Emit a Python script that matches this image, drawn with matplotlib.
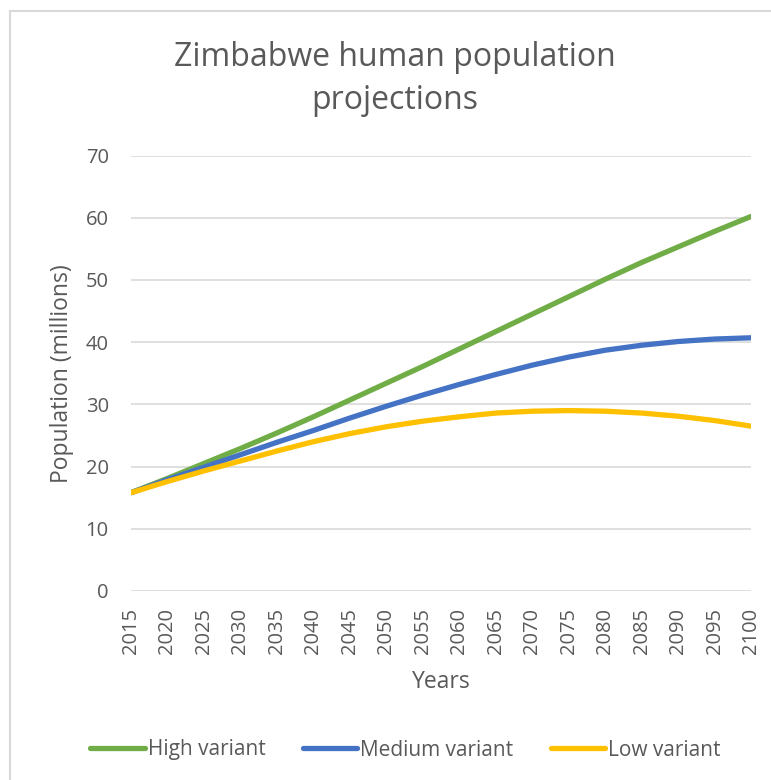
import matplotlib.pyplot as plt
from matplotlib.patches import Rectangle

# Zimbabwe population projections, millions, 5-year steps
years = [2015, 2020, 2025, 2030, 2035, 2040, 2045, 2050, 2055,
         2060, 2065, 2070, 2075, 2080, 2085, 2090, 2095, 2100]
high = [15.8, 18.1, 20.5, 22.9, 25.4, 28.0, 30.7, 33.4, 36.1,
        38.9, 41.7, 44.5, 47.3, 50.1, 52.8, 55.3, 57.8, 60.2]
medium = [15.8, 17.9, 19.9, 21.9, 23.9, 25.8, 27.8, 29.7, 31.5,
          33.2, 34.8, 36.3, 37.6, 38.7, 39.5, 40.1, 40.5, 40.7]
low = [15.8, 17.6, 19.3, 20.9, 22.5, 24.0, 25.3, 26.4, 27.3,
       28.0, 28.6, 28.9, 29.0, 28.9, 28.6, 28.1, 27.4, 26.5]

plt.rcParams['font.family'] = ['Open Sans', 'DejaVu Sans']
textc = '#595959'

fig = plt.figure(figsize=(7.71, 7.80), dpi=100)
# chart area border
fig.patches.append(Rectangle((10 / 771, -0.1), 1.2, 1.1 - 11 / 780,
                             transform=fig.transFigure, fill=False,
                             edgecolor='#d9d9d9', linewidth=1.5))

ax = fig.add_axes([131 / 771, 1 - 591 / 780, 620 / 771, 435.5 / 780])
ax.plot(years, high, color='#70AD47', linewidth=3.8, solid_capstyle='round', label='High variant')
ax.plot(years, medium, color='#4472C4', linewidth=3.8, solid_capstyle='round', label='Medium variant')
ax.plot(years, low, color='#FFC000', linewidth=3.8, solid_capstyle='round', label='Low variant')

ax.set_xlim(2015, 2100)
ax.set_ylim(0, 70)
ax.set_yticks(range(0, 71, 10))
ax.set_xticks(years)
ax.set_xticklabels([str(y) for y in years], rotation=90)
ax.grid(axis='y', color='#d9d9d9', linewidth=1.2)
ax.set_axisbelow(True)
for s in ax.spines.values():
    s.set_visible(False)
ax.tick_params(length=0, labelsize=14.5, colors=textc)
ax.tick_params(axis='y', pad=16)
ax.tick_params(axis='x', pad=12)

ax.set_ylabel('Population (millions)', fontsize=16.5, color=textc)
ax.yaxis.set_label_coords(-(131 - 62) / 620, 0.5)
ax.set_xlabel('Years', fontsize=16.5, color=textc)
ax.xaxis.set_label_coords(0.5, -(682 - 591) / 435.5)
ax.xaxis.label.set_va('center')
ax.yaxis.label.set_va('center')

fig.text(395 / 771, 1 - 79 / 780, 'Zimbabwe human population\nprojections',
         ha='center', va='center', fontsize=23, color=textc, linespacing=1.38)

fig.legend(loc='center', bbox_to_anchor=(0.526, 1 - 750 / 780), ncol=3, frameon=False,
           fontsize=15, labelcolor=textc, handlelength=2.6, handletextpad=0.15,
           columnspacing=1.8)

fig.savefig('out.png', dpi=100)
